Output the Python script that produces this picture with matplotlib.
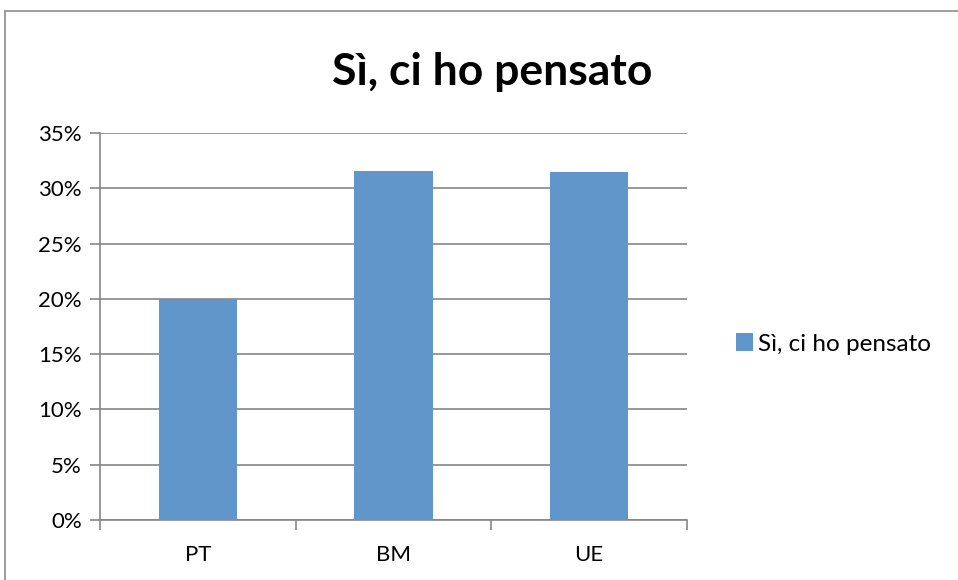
import matplotlib.pyplot as plt
from matplotlib.patches import Rectangle
from matplotlib.ticker import FuncFormatter, MultipleLocator

# data
categories = ["PT", "BM", "UE"]
values = [20.0, 31.6, 31.5]
series_name = "Sì, ci ho pensato"
title = "Sì, ci ho pensato"

bar_color = "#6096CA"
grid_color = "#868686"

plt.rcParams["font.family"] = ["Lato", "DejaVu Sans"]

fig = plt.figure(figsize=(9.58, 5.8), dpi=100)
# outer chart border (right and bottom edges fall outside the image)
fig.patches.append(Rectangle((5 / 958, -0.1), 1.2, 1 - 11 / 580 + 0.1,
                             transform=fig.transFigure, fill=False,
                             edgecolor="#8c8c8c", linewidth=1.2))

ax = fig.add_axes([100 / 958, 60 / 580, 587 / 958, 387 / 580])
x = range(len(categories))
bars = ax.bar(x, values, width=0.4, color=bar_color, label=series_name, zorder=3)

ax.set_xlim(-0.5, 2.5)
ax.set_ylim(0, 35)
ax.yaxis.set_major_locator(MultipleLocator(5))
ax.yaxis.set_major_formatter(FuncFormatter(lambda v, p: f"{v:.0f}%"))
ax.grid(axis="y", color=grid_color, linewidth=1.2, zorder=0)

ax.set_xticks([-0.5, 0.5, 1.5, 2.5], minor=False)
ax.set_xticklabels([])
ax.set_xticks(list(x), minor=True)
ax.set_xticklabels(categories, minor=True)
ax.tick_params(axis="x", which="major", length=7, color=grid_color, width=1.2)
ax.tick_params(axis="x", which="minor", length=0, pad=18, labelsize=16)
ax.tick_params(axis="y", length=7, color=grid_color, width=1.2, labelsize=16, pad=6)

for s in ["top", "right"]:
    ax.spines[s].set_visible(False)
for s in ["left", "bottom"]:
    ax.spines[s].set_color(grid_color)
    ax.spines[s].set_linewidth(1.2)

fig.text(492 / 958, 1 - 72 / 580, title, ha="center", va="center",
         fontsize=32, fontweight="bold")

fig.legend(handles=[bars], labels=[series_name], loc="center left",
           bbox_to_anchor=(714 / 958, 1 - 344 / 580), frameon=False,
           fontsize=17.5, handlelength=0.7, handleheight=0.7, handletextpad=0.2)

fig.savefig("out.png", dpi=100)
